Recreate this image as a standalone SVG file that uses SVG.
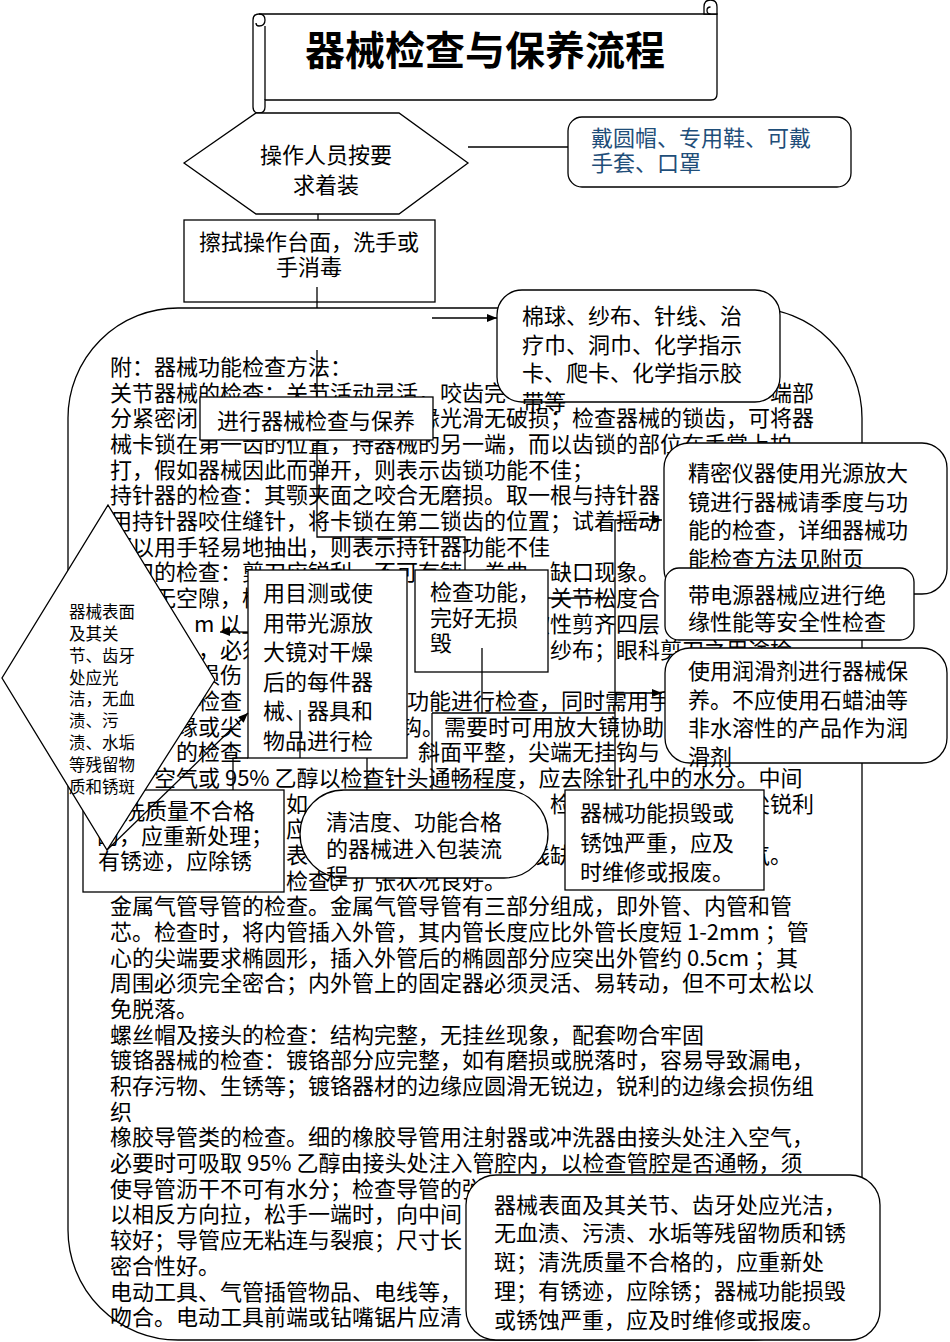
<svg xmlns="http://www.w3.org/2000/svg" width="950" height="1342" viewBox="0 0 950 1342">
<defs>
<style>
.t{font-family:"Noto Sans CJK SC","Noto Sans",sans-serif;font-size:22px;fill:#000}
.d{font-family:"Noto Sans CJK SC","Noto Sans",sans-serif;font-size:16.5px;fill:#000}
.title{font-family:"Noto Sans CJK SC","Noto Sans",sans-serif;font-size:40px;font-weight:700;fill:#000}
.blue{fill:#1F4E79}
.box{fill:#fff;stroke:#000;stroke-width:1.3}
.ln{fill:none;stroke:#000;stroke-width:1.3}
</style>
<marker id="ah" markerWidth="10" markerHeight="8" refX="10" refY="4" orient="auto" markerUnits="userSpaceOnUse"><path d="M0,0 L10,4 L0,8 z" fill="#000"/></marker>
</defs>
<rect width="950" height="1342" fill="#fff"/>

<g id="title">
<path class="box" d="M259,14 H717 V94 Q717,100 711,100 H265 V107 Q265,113 259,113 Q253,113 253,107 V20 Q253,14 259,14 Z"/>
<path class="ln" d="M265,100 V26 M259,14 Q265,14 265,20 Q265,26 259,26 Q256,26 256,23"/>
<path class="box" d="M704,14 V7 Q704,0 710.5,0 Q717,0 717,7 V14 Z"/>
<path class="ln" d="M710.5,14 Q707,14 707,10.5 Q707,7 710.5,7"/>
<text class="title" x="485" y="65" text-anchor="middle">器械检查与保养流程</text>
</g>

<g id="container">
<rect class="ln" x="68" y="308" width="794" height="1032" rx="110" ry="110"/>
</g>

<g id="note-text" class="t">
<text x="110" y="375">附：器械功能检查方法：</text>
<text y="400.7"><tspan x="110">关节器械的检查：关节活动灵活，咬齿完</tspan><tspan x="770">端部</tspan></text>
<text y="426.4"><tspan x="110">分紧密闭</tspan><tspan x="418">缘光滑无破损；检查器械的锁齿，可将器</tspan></text>
<text x="110" y="452">械卡锁在第一齿的位置，持器械的另一端，而以齿锁的部位在手掌上拍</text>
<text x="110" y="477.7">打，假如器械因此而弹开，则表示齿锁功能不佳；</text>
<text x="110" y="503.4">持针器的检查：其颚夹面之咬合无磨损。取一根与持针器</text>
<text x="110" y="529.1">用持针器咬住缝针，将卡锁在第二锁齿的位置；试着摇动</text>
<text x="110" y="554.8">可以用手轻易地抽出，则表示持针器功能不佳</text>
<text x="110" y="580.4">剪刀的检查：剪刀应锐利，不可有钝、卷曲、缺口现象。</text>
<text y="606.1"><tspan x="154">无空隙，检</tspan><tspan x="550">关节松度合</tspan></text>
<text y="631.8"><tspan x="194">m 以上</tspan><tspan x="528">软性剪齐四层</tspan></text>
<text y="657.5"><tspan x="198">，必须</tspan><tspan x="550">纱布；眼科剪刀之用途检</tspan></text>
<text y="683.2"><tspan x="198">损伤</tspan></text>
<text y="708.8"><tspan x="198">检查</tspan><tspan x="407">功能进行检查，同时需用手</tspan></text>
<text y="734.5"><tspan x="176">缘或尖</tspan><tspan x="400">钩。需要时可用放大镜协助</tspan></text>
<text y="760.2"><tspan x="176">的检查</tspan><tspan x="418">斜面平整，尖端无挂钩与</tspan></text>
<text x="154" y="785.9">空气或 95% 乙醇以检查针头通畅程度，应去除针孔中的水分。中间</text>
<text y="811.6"><tspan x="286">如</tspan><tspan x="550">检</tspan><tspan x="748">尖锐利</tspan></text>
<text y="837.2"><tspan x="286">应</tspan></text>
<text y="862.9"><tspan x="286">表</tspan><tspan x="528">线缺</tspan><tspan x="748">气。</tspan></text>
<text x="286" y="888.6">检查。扩张状况良好。</text>
<text x="110" y="914.3">金属气管导管的检查。金属气管导管有三部分组成，即外管、内管和管</text>
<text x="110" y="940">芯。检查时，将内管插入外管，其内管长度应比外管长度短 1-2mm ；管</text>
<text x="110" y="965.6">心的尖端要求椭圆形，插入外管后的椭圆部分应突出外管约 0.5cm ；其</text>
<text x="110" y="991.3">周围必须完全密合；内外管上的固定器必须灵活、易转动，但不可太松以</text>
<text x="110" y="1017">免脱落。</text>
<text x="110" y="1042.7">螺丝帽及接头的检查：结构完整，无挂丝现象，配套吻合牢固</text>
<text x="110" y="1068.4">镀铬器械的检查：镀铬部分应完整，如有磨损或脱落时，容易导致漏电，</text>
<text x="110" y="1094">积存污物、生锈等；镀铬器材的边缘应圆滑无锐边，锐利的边缘会损伤组</text>
<text x="110" y="1119.7">织</text>
<text x="110" y="1145.4">橡胶导管类的检查。细的橡胶导管用注射器或冲洗器由接头处注入空气，</text>
<text x="110" y="1171.1">必要时可吸取 95% 乙醇由接头处注入管腔内，以检查管腔是否通畅，须</text>
<text x="110" y="1196.8">使导管沥干不可有水分；检查导管的弹</text>
<text x="110" y="1222.4">以相反方向拉，松手一端时，向中间</text>
<text x="110" y="1248.1">较好；导管应无粘连与裂痕；尺寸长</text>
<text x="110" y="1273.8">密合性好。</text>
<text x="110" y="1299.5">电动工具、气管插管物品、电线等，</text>
<text x="110" y="1325.2">吻合。电动工具前端或钻嘴锯片应清</text>
</g>

<g id="n-dress">
<polygon class="box" points="184,163 256,113 399,113 468,163 399,214 256,214"/>
<text class="t" x="326" y="163.4" text-anchor="middle">操作人员按要</text>
<text class="t" x="326" y="193.4" text-anchor="middle">求着装</text>
</g>

<g id="n-gear">
<rect class="box" x="568" y="117" width="283" height="70" rx="14"/>
<text class="t blue" x="591" y="146">戴圆帽、专用鞋、可戴</text>
<text class="t blue" x="591" y="171">手套、口罩</text>
</g>

<g id="n-wipe">
<rect class="box" x="184" y="220" width="251" height="82"/>
<text class="t" x="309" y="250" text-anchor="middle">擦拭操作台面，洗手或</text>
<text class="t" x="309" y="275" text-anchor="middle">手消毒</text>
</g>

<g id="n-supplies">
<rect class="box" x="497" y="290" width="283" height="112" rx="25"/>
<text class="t" x="522" y="324">棉球、纱布、针线、治</text>
<text class="t" x="522" y="353">疗巾、洞巾、化学指示</text>
<text class="t" x="522" y="381">卡、爬卡、化学指示胶</text>
<text class="t" x="522" y="410">带等</text>
</g>

<g id="n-check">
<rect class="box" x="200" y="397" width="233" height="43"/>
<text class="t" x="316" y="429" text-anchor="middle">进行器械检查与保养</text>
</g>

<g id="n-precision">
<rect class="box" x="664" y="443" width="283" height="151" rx="25"/>
<text class="t" x="688" y="481">精密仪器使用光源放大</text>
<text class="t" x="688" y="510">镜进行器械请季度与功</text>
<text class="t" x="688" y="538">能的检查，详细器械功</text>
<text class="t" x="688" y="567">能检查方法见附页</text>
</g>

<g id="n-electric">
<rect class="box" x="665" y="568" width="249" height="72" rx="14"/>
<text class="t" x="688" y="603">带电源器械应进行绝</text>
<text class="t" x="688" y="630">缘性能等安全性检查</text>
</g>

<g id="n-lube">
<rect class="box" x="665" y="648" width="282" height="115" rx="25"/>
<text class="t" x="688" y="679">使用润滑剂进行器械保</text>
<text class="t" x="688" y="708">养。不应使用石蜡油等</text>
<text class="t" x="688" y="736">非水溶性的产品作为润</text>
<text class="t" x="688" y="765">滑剂</text>
</g>

<g id="n-visual">
<rect class="box" x="248" y="570" width="159" height="188"/>
<text class="t" x="263" y="601">用目测或使</text>
<text class="t" x="263" y="631">用带光源放</text>
<text class="t" x="263" y="660">大镜对干燥</text>
<text class="t" x="263" y="690">后的每件器</text>
<text class="t" x="263" y="719">械、器具和</text>
<text class="t" x="263" y="749">物品进行检</text>
</g>

<g id="n-function">
<rect class="box" x="415" y="570" width="133" height="102"/>
<text class="t" x="430" y="600">检查功能，</text>
<text class="t" x="430" y="626">完好无损</text>
<text class="t" x="430" y="651">毁</text>
</g>

<g id="n-reclean">
<rect class="box" x="83" y="790" width="201" height="102"/>
<text class="t" x="101" y="819">清洗质量不合格</text>
<text class="t" x="97" y="844">的，应重新处理；</text>
<text class="t" x="98" y="869">有锈迹，应除锈</text>
</g>

<g id="n-surface">
<polygon class="box" points="108,505 215,680 107,850 2,678"/>
<text class="d" x="69" y="618">器械表面</text>
<text class="d" x="69" y="640">及其关</text>
<text class="d" x="69" y="662">节、齿牙</text>
<text class="d" x="69" y="684">处应光</text>
<text class="d" x="69" y="705">洁，无血</text>
<text class="d" x="69" y="727">渍、污</text>
<text class="d" x="69" y="749">渍、水垢</text>
<text class="d" x="69" y="771">等残留物</text>
<text class="d" x="69" y="793">质和锈斑</text>
</g>

<g id="n-pack">
<rect class="box" x="300" y="790" width="248" height="88" rx="44"/>
<text class="t" x="326" y="830">清洁度、功能合格</text>
<text class="t" x="326" y="857">的器械进入包装流</text>
<text class="t" x="326" y="884">程</text>
</g>

<g id="n-repair">
<rect class="box" x="565" y="790" width="199" height="100"/>
<text class="t" x="580" y="821">器械功能损毁或</text>
<text class="t" x="580" y="851">锈蚀严重，应及</text>
<text class="t" x="580" y="880">时维修或报废。</text>
</g>

<g id="n-summary">
<rect class="box" x="466" y="1175" width="414" height="165" rx="30"/>
<text class="t" x="494" y="1213">器械表面及其关节、齿牙处应光洁，</text>
<text class="t" x="494" y="1241">无血渍、污渍、水垢等残留物质和锈</text>
<text class="t" x="494" y="1270">斑；清洗质量不合格的，应重新处</text>
<text class="t" x="494" y="1299">理；有锈迹，应除锈；器械功能损毁</text>
<text class="t" x="494" y="1328">或锈蚀严重，应及时维修或报废。</text>
</g>

<g id="connectors" class="ln">
<path d="M468,147 H568"/>
<path d="M318,214 V220"/>
<path d="M317,287 V308"/>
<path d="M317,350 V397"/>
<path d="M432,318 H497" marker-end="url(#ah)"/>
<path d="M317,440 V537 H465 V570"/>
<path d="M248,632 H220" marker-end="url(#ah)"/>
<path d="M107,850 L248,713" marker-end="url(#ah)"/>
<path d="M233,790 V758 H248"/>
<path d="M300,710 V758"/>
<path d="M548,598 H615"/>
<path d="M615,520 V790"/>
<path d="M615,520 H662" marker-end="url(#ah)"/>
<path d="M615,693 H662" marker-end="url(#ah)"/>
<path d="M482,648 V713"/>
<path d="M432,713 H615"/>
<path d="M432,713 V790"/>
<path d="M367,758 V790"/>
</g>
</svg>
